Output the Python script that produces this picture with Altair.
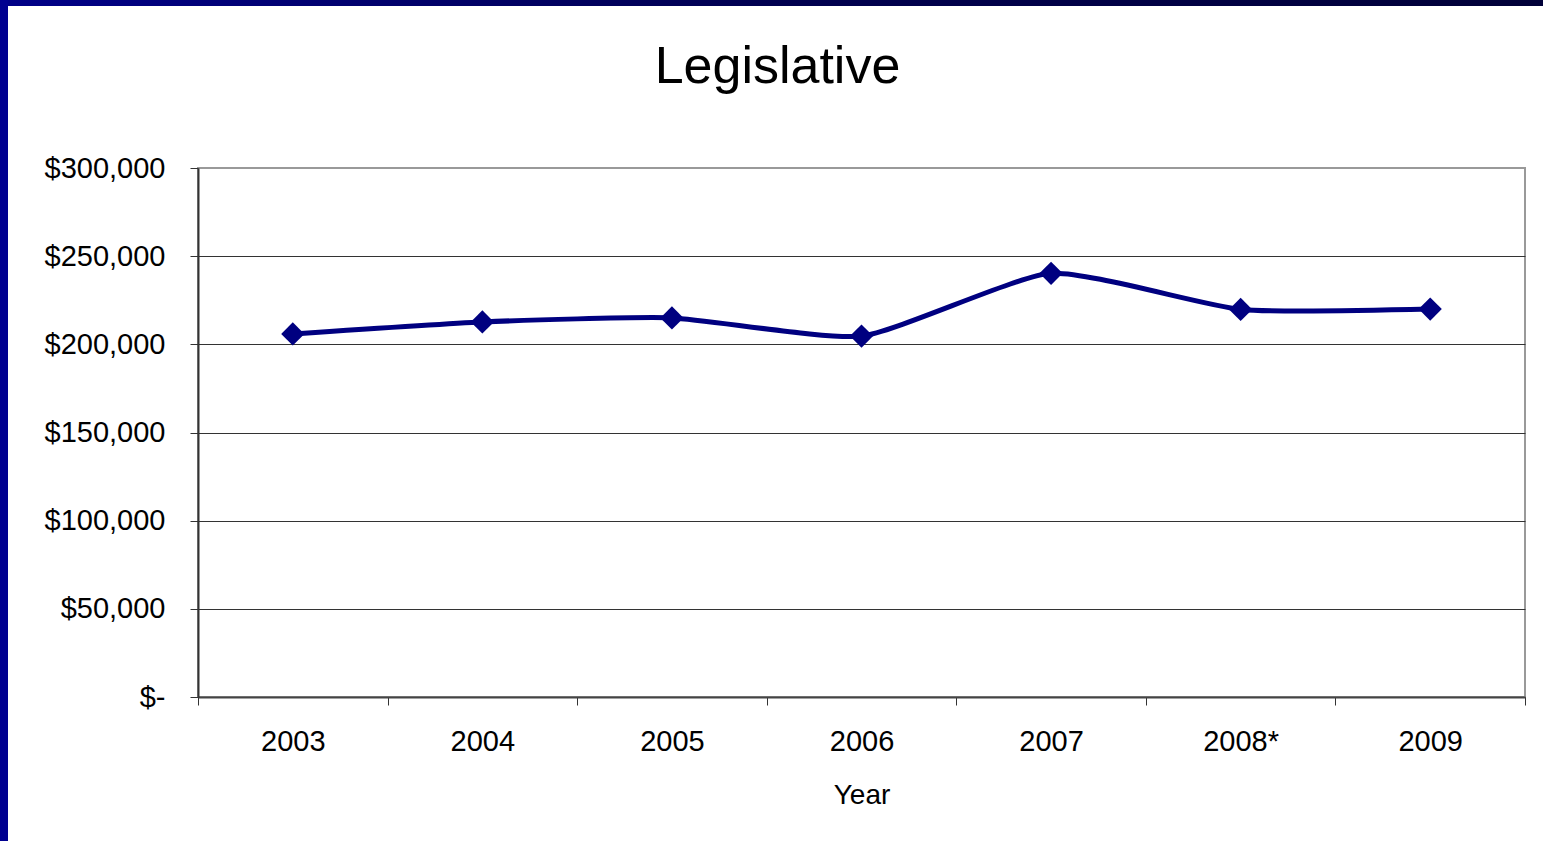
import altair as alt
import pandas as pd

years = ["2003", "2004", "2005", "2006", "2007", "2008*", "2009"]
spending = [205900, 212700, 215000, 204700, 240300, 219800, 220000]

df = pd.DataFrame({"Year": years, "Amount": spending})

FONT = "Liberation Sans"
NAVY = "#000080"

x = alt.X(
    "Year:N",
    sort=years,
    scale=alt.Scale(paddingInner=0, paddingOuter=0),
    axis=alt.Axis(
        title="Year",
        labelAngle=0,
        labelFontSize=29,
        titleFontSize=28,
        titleFontWeight="normal",
        labelColor="#000",
        titleColor="#000",
        tickBand="extent",
        tickSize=8,
        tickColor="#333",
        domainColor="#444",
        domainWidth=2,
        labelPadding=22,
        titlePadding=25,
        grid=False,
    ),
)

y = alt.Y(
    "Amount:Q",
    scale=alt.Scale(domain=[0, 300000], nice=False),
    axis=alt.Axis(
        title=None,
        values=[0, 50000, 100000, 150000, 200000, 250000, 300000],
        labelExpr="datum.value == 0 ? '$-' : '$' + format(datum.value, ',')",
        labelFontSize=29,
        labelColor="#000",
        tickSize=8,
        tickColor="#333",
        domainColor="#333",
        domainWidth=2,
        labelPadding=25,
        gridColor="#333",
        gridWidth=1,
        gridOpacity={"condition": {"test": "datum.value >= 300000", "value": 0}, "value": 1},
    ),
)

base = alt.Chart(df)

line = base.mark_line(color=NAVY, strokeWidth=5, interpolate="cardinal", tension=0.45).encode(x=x, y=y)
points = base.mark_point(shape="diamond", filled=True, size=540, color=NAVY, opacity=1).encode(x=x, y=y)

css = (
    "body::before{content:'';position:fixed;left:0;top:0;width:100%;height:6px;"
    "background:linear-gradient(to right,#000088,#000050 50%,#000038);z-index:5}"
    "body::after{content:'';position:fixed;left:0;top:0;width:8px;height:100%;background:#000090;z-index:5}"
    ".vega-embed svg{display:block}"
)

chart = (
    alt.layer(line, points)
    .properties(
        width=1327,
        height=529,
        autosize=alt.AutoSizeParams(type="none"),
        padding={"left": 190, "top": 160, "right": 10, "bottom": 120},
        title=alt.TitleParams(
            "Legislative", fontSize=52, font=FONT, fontWeight="normal", color="#000",
            anchor="middle", offset=60, dx=-84
        ),
    )
    .configure(font=FONT, background="white")
    .configure_view(stroke="#999", strokeWidth=2)
)

chart.save("out.html", embed_options={"renderer": "svg", "actions": False, "defaultStyle": css})
